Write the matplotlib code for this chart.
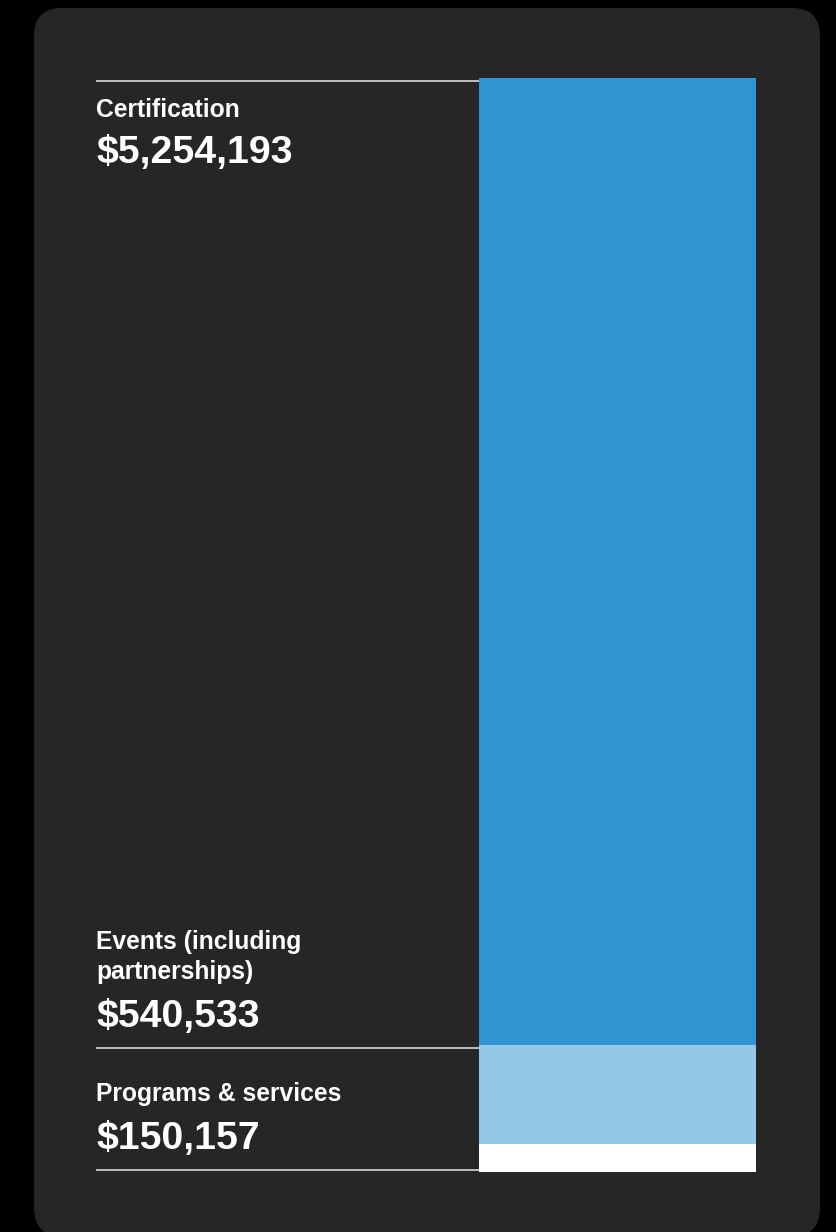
import matplotlib
matplotlib.use("Agg")
import matplotlib.pyplot as plt
from matplotlib.patches import FancyBboxPatch
from matplotlib.transforms import blended_transform_factory, ScaledTranslation

# ---- data ----
categories = ["Certification", "Events (including\npartnerships)", "Programs & services"]
values = [5254193, 540533, 150157]
value_labels = ["$5,254,193", "$540,533", "$150,157"]

# ---- style ----
colors = ["#2E94D2", "#94C8E7", "#FFFFFF"]
panel_color = "#262626"
text_color = "#FFFFFF"
line_color = "#E6E6E6"
W, H = 836, 1232
DPI = 100

fig = plt.figure(figsize=(W / DPI, H / DPI), dpi=DPI, facecolor="black")

bg = fig.add_axes([0, 0, 1, 1])
bg.set_xlim(0, W)
bg.set_ylim(H, 0)
bg.axis("off")
bg.add_patch(FancyBboxPatch((34, 8), 786, 1228,
                            boxstyle="round,pad=0,rounding_size=28",
                            facecolor=panel_color, edgecolor="none"))

# bar axes
bar_left, bar_right, bar_top, bar_bottom = 479, 756, 78, 1172
ax = fig.add_axes([bar_left / W, 1 - bar_bottom / H,
                   (bar_right - bar_left) / W, (bar_bottom - bar_top) / H])
ax.axis("off")
total = sum(values)
ax.set_xlim(-0.5, 0.5)
ax.set_ylim(0, total)

# stack: last category at bottom
bottoms = []
b = 0
for v in reversed(values):
    bottoms.append(b)
    b += v
bottoms = list(reversed(bottoms))
for v, btm, c in zip(values, bottoms, colors):
    ax.bar(0, v, bottom=btm, width=1.0, color=c, edgecolor="none")

trans = blended_transform_factory(bg.transData, ax.transData)

def off(px):
    return trans + ScaledTranslation(0, px / DPI, fig.dpi_scale_trans)

# separator lines: top, cert/events boundary, bottom
line_x = [96, bar_left]
for yv, o in [(total, -3), (bottoms[0], -3), (0, 2)]:
    ax.plot(line_x, [yv, yv], transform=off(o), color=line_color,
            lw=1.1, clip_on=False, solid_capstyle="butt")

font = "Liberation Sans"
label_size = 17.7
value_size = 28.3
x0 = 96

# Certification (below top line)
ax.annotate(categories[0], xy=(x0, total), xycoords=trans,
            xytext=(0, -39), textcoords="offset pixels",
            ha="left", va="baseline", fontsize=label_size, fontweight="bold",
            color=text_color, family=font)
ax.annotate(value_labels[0], xy=(x0, total), xycoords=trans,
            xytext=(0, -85), textcoords="offset pixels",
            ha="left", va="baseline", fontsize=value_size, fontweight="bold",
            color=text_color, family=font)

# Events (above the cert/events boundary)
ev_lines = categories[1].split("\n")
for line, dy in zip(ev_lines, [96, 66]):
    ax.annotate(line, xy=(x0, bottoms[0]), xycoords=trans,
                xytext=(0, dy), textcoords="offset pixels",
                ha="left", va="baseline", fontsize=label_size, fontweight="bold",
                color=text_color, family=font)
ax.annotate(value_labels[1], xy=(x0, bottoms[0]), xycoords=trans,
            xytext=(0, 18), textcoords="offset pixels",
            ha="left", va="baseline", fontsize=value_size, fontweight="bold",
            color=text_color, family=font)

# Programs (below the boundary)
ax.annotate(categories[2], xy=(x0, bottoms[0]), xycoords=trans,
            xytext=(0, -56), textcoords="offset pixels",
            ha="left", va="baseline", fontsize=label_size, fontweight="bold",
            color=text_color, family=font)
ax.annotate(value_labels[2], xy=(x0, bottoms[0]), xycoords=trans,
            xytext=(0, -104), textcoords="offset pixels",
            ha="left", va="baseline", fontsize=value_size, fontweight="bold",
            color=text_color, family=font)

fig.savefig("out.png", dpi=DPI, facecolor="black")
